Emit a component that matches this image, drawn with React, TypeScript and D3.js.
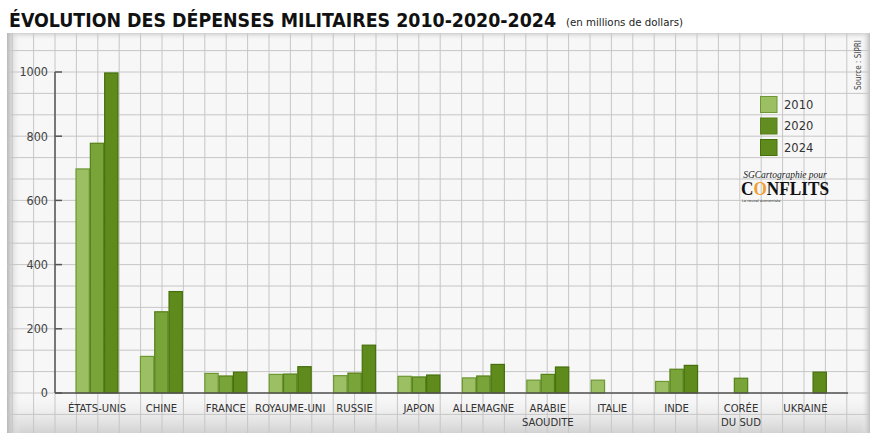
import React from "react";
import * as d3 from "d3";

const categories = [
  "ÉTATS-UNIS",
  "CHINE",
  "FRANCE",
  "ROYAUME-UNI",
  "RUSSIE",
  "JAPON",
  "ALLEMAGNE",
  "ARABIE SAOUDITE",
  "ITALIE",
  "INDE",
  "CORÉE DU SUD",
  "UKRAINE",
];
const categoryLines = [
  ["ÉTATS-UNIS"],
  ["CHINE"],
  ["FRANCE"],
  ["ROYAUME-UNI"],
  ["RUSSIE"],
  ["JAPON"],
  ["ALLEMAGNE"],
  ["ARABIE", "SAOUDITE"],
  ["ITALIE"],
  ["INDE"],
  ["CORÉE", "DU SUD"],
  ["UKRAINE"],
];
const years = ["2010", "2020", "2024"];
const values2010 = [698, 114, 61, 58, 54, 52, 47, 40, 40, 36, 0, 0];
const values2020 = [778, 253, 53, 59, 62, 50, 53, 58, 0, 74, 46, 0];
const values2024 = [997, 316, 65, 82, 149, 56, 89, 81, 0, 86, 0, 65];
const yTicks = [0, 200, 400, 600, 800, 1000];

const title = "ÉVOLUTION DES DÉPENSES MILITAIRES 2010-2020-2024";
const subtitle = "(en millions de dollars)";
const source = "Source : SIPRI";

const fills = ["#9cbf63", "#79a43a", "#5e8b1c"];
const strokes = ["#6c9731", "#557f18", "#46700b"];
const legendFills = ["#9cbf63", "#618d21", "#5e8b1c"];

const W = 882;
const H = 443;
const COND = "'Liberation Sans Narrow', 'DejaVu Sans Condensed', 'Roboto Condensed', sans-serif";

export default function App() {
  const series = [values2010, values2020, values2024];
  const axisX = 55;
  const y = d3.scaleLinear().domain([0, 1000]).range([393, 72]);
  const x = d3
    .scaleBand<string>()
    .domain(categories)
    .range([64.8, 837.6])
    .paddingInner(1 / 3)
    .paddingOuter(1 / 6);
  const xs = d3.scaleBand<string>().domain(years).range([0, x.bandwidth()]);

  const panel = { x0: 7, x1: 870, y0: 33, y1: 433 };
  const g = (y(0) - y(1000)) / 15;
  const vLines: number[] = [];
  for (let k = -2; axisX + k * g < panel.x1 - 2; k++) vLines.push(axisX + k * g);
  const hLines: number[] = [];
  for (let k = -16; k <= 1; k++) hLines.push(y(0) + k * g);

  return (
    <svg
      width={W}
      height={H}
      style={{ position: "fixed", left: 0, top: 0, background: "#fff" }}
    >
      <defs>
        <linearGradient id="lg" x1="0" x2="1" y1="0" y2="0">
          <stop offset="0" stopColor="#b8b8b8" />
          <stop offset="1" stopColor="#f4f4f4" stopOpacity="0" />
        </linearGradient>
        <linearGradient id="rg" x1="0" x2="1" y1="0" y2="0">
          <stop offset="0" stopColor="#f4f4f4" stopOpacity="0" />
          <stop offset="1" stopColor="#bebebe" />
        </linearGradient>
        <linearGradient id="bg" x1="0" x2="0" y1="0" y2="1">
          <stop offset="0" stopColor="#e6e6e6" stopOpacity="0" />
          <stop offset="1" stopColor="#d3d3d3" />
        </linearGradient>
        <linearGradient id="tg" x1="0" x2="0" y1="0" y2="1">
          <stop offset="0" stopColor="#cfcfcf" />
          <stop offset="1" stopColor="#f4f4f4" stopOpacity="0" />
        </linearGradient>
      </defs>

      {/* panel */}
      <rect
        x={panel.x0}
        y={panel.y0}
        width={panel.x1 - panel.x0}
        height={panel.y1 - panel.y0}
        fill="#f7f7f7"
      />
      <rect x={panel.x0} y={398} width={panel.x1 - panel.x0} height={panel.y1 - 398} fill="url(#bg)" />
      <rect x={panel.x0} y={panel.y0} width={panel.x1 - panel.x0} height={7} fill="url(#tg)" />
      <rect x={panel.x0} y={panel.y0} width={14} height={panel.y1 - panel.y0} fill="url(#lg)" />
      <rect x={panel.x1 - 9} y={panel.y0} width={9} height={panel.y1 - panel.y0} fill="url(#rg)" />

      {/* grid */}
      <g stroke="#c6c6c6" strokeWidth={1}>
        {vLines.map((vx, i) => (
          <line key={"v" + i} x1={vx} x2={vx} y1={panel.y0} y2={panel.y1} />
        ))}
        {hLines.map((hy, i) => (
          <line key={"h" + i} x1={panel.x0} x2={panel.x1} y1={hy} y2={hy} />
        ))}
      </g>

      {/* source */}
      <text
        transform={`translate(861,90) rotate(-90)`}
        fontFamily={COND}
        fontSize={8}
        fill="#444"
      >
        {source}
      </text>

      {/* bars */}
      {categories.map((c, i) => (
        <g key={c} transform={`translate(${x(c)},0)`}>
          {years.map((yr, j) => {
            const v = series[j][i];
            if (!v) return null;
            return (
              <rect
                key={yr}
                x={xs(yr)! + 0.5}
                y={y(v)}
                width={xs.bandwidth() - 1}
                height={y(0) - y(v)}
                fill={fills[j]}
                stroke={strokes[j]}
                strokeWidth={1.2}
              />
            );
          })}
        </g>
      ))}

      {/* axes */}
      <line x1={axisX} x2={axisX} y1={y(1000)} y2={y(0)} stroke="#555" strokeWidth={1.5} />
      <line x1={axisX} x2={848} y1={y(0)} y2={y(0)} stroke="#555" strokeWidth={1.5} />
      {yTicks.map((t) => (
        <g key={t}>
          <line x1={axisX} x2={axisX + 7} y1={y(t)} y2={y(t)} stroke="#555" strokeWidth={1.5} />
          <text
            x={48}
            y={y(t)}
            dy="0.35em"
            textAnchor="end"
            fontFamily={COND}
            fontSize={12.5}
            fill="#444"
          >
            {t}
          </text>
        </g>
      ))}

      {/* category labels */}
      {categories.map((c, i) => (
        <text
          key={c}
          x={x(c)! + x.bandwidth() / 2}
          y={412}
          textAnchor="middle"
          fontFamily={COND}
          fontSize={11.2}
          fill="#333"
        >
          {categoryLines[i].map((l, k) => (
            <tspan key={k} x={x(c)! + x.bandwidth() / 2} dy={k === 0 ? 0 : 13.5}>
              {l}
            </tspan>
          ))}
        </text>
      ))}

      {/* legend */}
      {years.map((yr, j) => (
        <g key={yr} transform={`translate(760,${96 + j * 21.5})`}>
          <rect
            x={0.5}
            y={0.5}
            width={16.5}
            height={16}
            fill={legendFills[j]}
            stroke={strokes[j]}
            strokeWidth={1}
          />
          <text x={24} y={8.5} dy="0.35em" fontFamily="'DejaVu Sans', sans-serif" fontSize={11.5} fill="#333">
            {yr}
          </text>
        </g>
      ))}

      {/* logo */}
      <text
        x={785}
        y={178}
        textAnchor="middle"
        fontFamily="'Liberation Serif', serif"
        fontStyle="italic"
        fontSize={9.5}
        fill="#222"
      >
        SGCartographie pour
      </text>
      <text
        x={785}
        y={195}
        textAnchor="middle"
        fontFamily="'Liberation Serif', serif"
        fontWeight="bold"
        fontSize={18}
        fill="#111"
        textLength={88}
        lengthAdjust="spacingAndGlyphs"
      >
        C<tspan fill="#f0a030">O</tspan>NFLITS
      </text>
      <text x={742} y={202} fontFamily="'DejaVu Sans', sans-serif" fontSize={3.5} fill="#333">
        Le nouvel économiste
      </text>

      {/* title */}
      <text
        x={9}
        y={27}
        fontFamily={COND}
        fontWeight="bold"
        fontSize={20}
        fill="#111"
        textLength={547}
        lengthAdjust="spacingAndGlyphs"
      >
        {title}
      </text>
      <text
        x={566}
        y={26}
        fontFamily={COND}
        fontSize={10.5}
        fill="#222"
        textLength={117}
        lengthAdjust="spacingAndGlyphs"
      >
        {subtitle}
      </text>
    </svg>
  );
}
